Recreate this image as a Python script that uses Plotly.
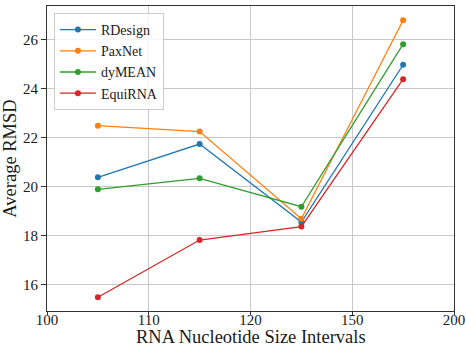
import plotly.graph_objects as go

tick_labels = ["100", "110", "120", "150", "200"]
series_names = ["RDesign", "PaxNet", "dyMEAN", "EquiRNA"]
rdesign = [20.37, 21.73, 18.54, 24.97]
paxnet = [22.48, 22.24, 18.68, 26.79]
dymean = [19.88, 20.33, 19.17, 25.81]
equirna = [15.47, 17.81, 18.36, 24.38]
colors = ["#1f77b4", "#ff7f0e", "#2ca02c", "#d62728"]

# points sit midway between consecutive interval boundaries
x_pos = [i + 0.5 for i in range(len(tick_labels) - 1)]

fig = go.Figure()
for name, vals, c in zip(series_names, [rdesign, paxnet, dymean, equirna], colors):
    fig.add_trace(go.Scatter(x=x_pos, y=vals, mode="lines+markers", name=name,
                             line=dict(color=c, width=1.3),
                             marker=dict(color=c, size=6)))

font = "Liberation Serif, Times New Roman, serif"
axis_common = dict(showline=True, linecolor="#333333", linewidth=1.2, mirror=True,
                   showgrid=True, gridcolor="#c8c8c8", gridwidth=1,
                   ticks="outside", tickcolor="#333333",
                   tickfont=dict(family=font, size=15, color="#1a1a1a"),
                   zeroline=False, automargin=False)

fig.update_layout(
    width=466, height=347,
    margin=dict(l=47, r=12, t=6, b=36),
    plot_bgcolor="white", paper_bgcolor="white",
    font=dict(family=font, color="#1a1a1a"),
    xaxis=dict(range=[0, len(tick_labels) - 1], tickvals=list(range(len(tick_labels))),
               ticktext=tick_labels, ticklen=3, ticklabelstandoff=-8,
               **axis_common),
    yaxis=dict(range=[14.91, 27.37], tickvals=[16, 18, 20, 22, 24, 26], ticklen=5,
               title=dict(text="Average RMSD", font=dict(family=font, size=18.5), standoff=2),
               **axis_common),
    legend=dict(x=0.017, y=0.977, xanchor="left", yanchor="top",
                bgcolor="rgba(255,255,255,0.85)", bordercolor="#cccccc", borderwidth=1,
                font=dict(family=font, size=14), tracegroupgap=0,
                itemwidth=36, entrywidth=94, entrywidthmode="pixels"),
    showlegend=True,
    annotations=[dict(text="RNA Nucleotide Size Intervals", xref="paper", yref="paper",
                      x=0.5, y=0, yshift=-37, xanchor="center", yanchor="bottom",
                      borderpad=0,
                      showarrow=False, font=dict(family=font, size=18.5, color="#1a1a1a"))],
)

fig.write_html("out.html", post_script="document.body.style.margin='0';",
               config={"displayModeBar": False})
